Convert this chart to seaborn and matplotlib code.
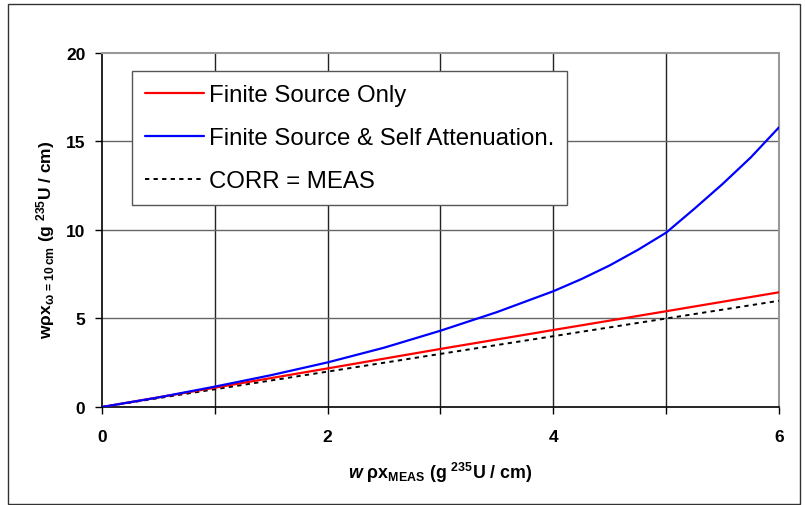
import numpy as np
import pandas as pd
import matplotlib
matplotlib.use("Agg")
import matplotlib.pyplot as plt
from matplotlib.patches import Rectangle
import seaborn as sns

# Measured mass loading (g 235U / cm)
x_blue = [0, 0.5, 1, 1.5, 2, 2.5, 3, 3.5, 4, 4.25, 4.5, 4.75, 5, 5.25, 5.5, 5.75, 6]
# Corrected with finite source and self attenuation
y_blue = [0, 0.54, 1.15, 1.8, 2.52, 3.35, 4.31, 5.36, 6.54, 7.23, 8.0, 8.88, 9.85, 11.2, 12.6, 14.1, 15.8]
# Corrected for finite source only
x_red = [0, 1, 2, 3, 4, 5, 6]
y_red = [0, 1.09, 2.18, 3.28, 4.35, 5.41, 6.48]
# Identity line
x_id = [0, 6]
y_id = [0, 6]

labels = ["Finite Source Only", "Finite Source & Self Attenuation.", "CORR = MEAS"]
x_ticks = [0, 1, 2, 3, 4, 5, 6]
x_ticklabels = ["0", "", "2", "", "4", "", "6"]
y_ticks = [0, 5, 10, 15, 20]

sns.set_theme(style="white")
plt.rcParams["font.family"] = ["Liberation Sans", "DejaVu Sans"]
plt.rcParams["text.color"] = "black"
plt.rcParams["axes.labelcolor"] = "black"
plt.rcParams["xtick.color"] = "black"
plt.rcParams["ytick.color"] = "black"
plt.rcParams["mathtext.fontset"] = "custom"
plt.rcParams["mathtext.rm"] = "Liberation Sans"
plt.rcParams["mathtext.bf"] = "Liberation Sans:bold"
plt.rcParams["mathtext.it"] = "Liberation Sans:italic"
plt.rcParams["mathtext.bfit"] = "Liberation Sans:bold:italic"

fig = plt.figure(figsize=(8.05, 5.06), dpi=100)
ax = fig.add_axes([0.1267, 0.1937, 0.8410, 0.6996])

df_red = pd.DataFrame({"x": x_red, "y": y_red})
df_blue = pd.DataFrame({"x": x_blue, "y": y_blue})
df_id = pd.DataFrame({"x": x_id, "y": y_id})

sns.lineplot(data=df_red, x="x", y="y", ax=ax, color="#ff0000", lw=1.6, label=labels[0], zorder=4)
sns.lineplot(data=df_blue, x="x", y="y", ax=ax, color="#0000ff", lw=1.6, label=labels[1], zorder=5)
sns.lineplot(data=df_id, x="x", y="y", ax=ax, color="black", lw=1.4, ls=(0, (2.2, 2.2)),
             label=labels[2], zorder=3)

ax.set_xlim(0, 6)
ax.set_ylim(0, 20)
ax.set_xticks(x_ticks)
ax.set_xticklabels(x_ticklabels)
ax.set_yticks(y_ticks)

# Grid: dark verticals, grey horizontals
for xv in x_ticks[1:-1]:
    ax.axvline(xv, color="#222222", lw=1.0, zorder=1)
for yv in y_ticks[1:-1]:
    ax.axhline(yv, color="#666666", lw=1.0, zorder=1)

for side in ["left", "bottom"]:
    ax.spines[side].set_color("black")
    ax.spines[side].set_linewidth(1.2)
for side in ["top", "right"]:
    ax.spines[side].set_color("#999999")
    ax.spines[side].set_linewidth(1.5)

ax.tick_params(axis="both", direction="out", length=5, width=1, color="black",
               labelsize=12.5, bottom=True, left=True)
ax.tick_params(axis="x", pad=11)
ax.tick_params(axis="y", pad=7)
for t in ax.get_xticklabels() + ax.get_yticklabels():
    t.set_fontweight("bold")

ax.set_xlabel(r"$\mathbfit{w}$ ρx$_{\mathbf{MEAS}}$ (g $^{\mathbf{235}}$U / cm)",
              fontsize=12.8, fontweight="bold", labelpad=11)
ax.set_ylabel(r"wρx$_{\mathbf{\omega\,=\,10\,cm}}$ (g $^{\mathbf{235}}$U / cm)",
              fontsize=12.5, fontweight="bold")
ax.yaxis.set_label_coords(-0.066, 0.475)

leg = ax.legend(loc="upper left", bbox_to_anchor=(0.044, 0.949), borderaxespad=0,
                fontsize=17.3, frameon=True, fancybox=False, handlelength=2.45,
                handletextpad=0.2, labelspacing=0.87, borderpad=0.55)
leg.get_frame().set_edgecolor("#555555")
leg.get_frame().set_linewidth(1.0)
leg.get_frame().set_alpha(1)
leg.set_zorder(10)
for txt in leg.get_texts():
    txt.set_color("black")

# Outer frame around the whole chart
fig.patches.append(Rectangle((8 / 805, 1 / 506), 792 / 805, 500 / 506, transform=fig.transFigure,
                             fill=False, edgecolor="#333333", lw=1.0))

fig.savefig("out.png", dpi=100, facecolor="white")
